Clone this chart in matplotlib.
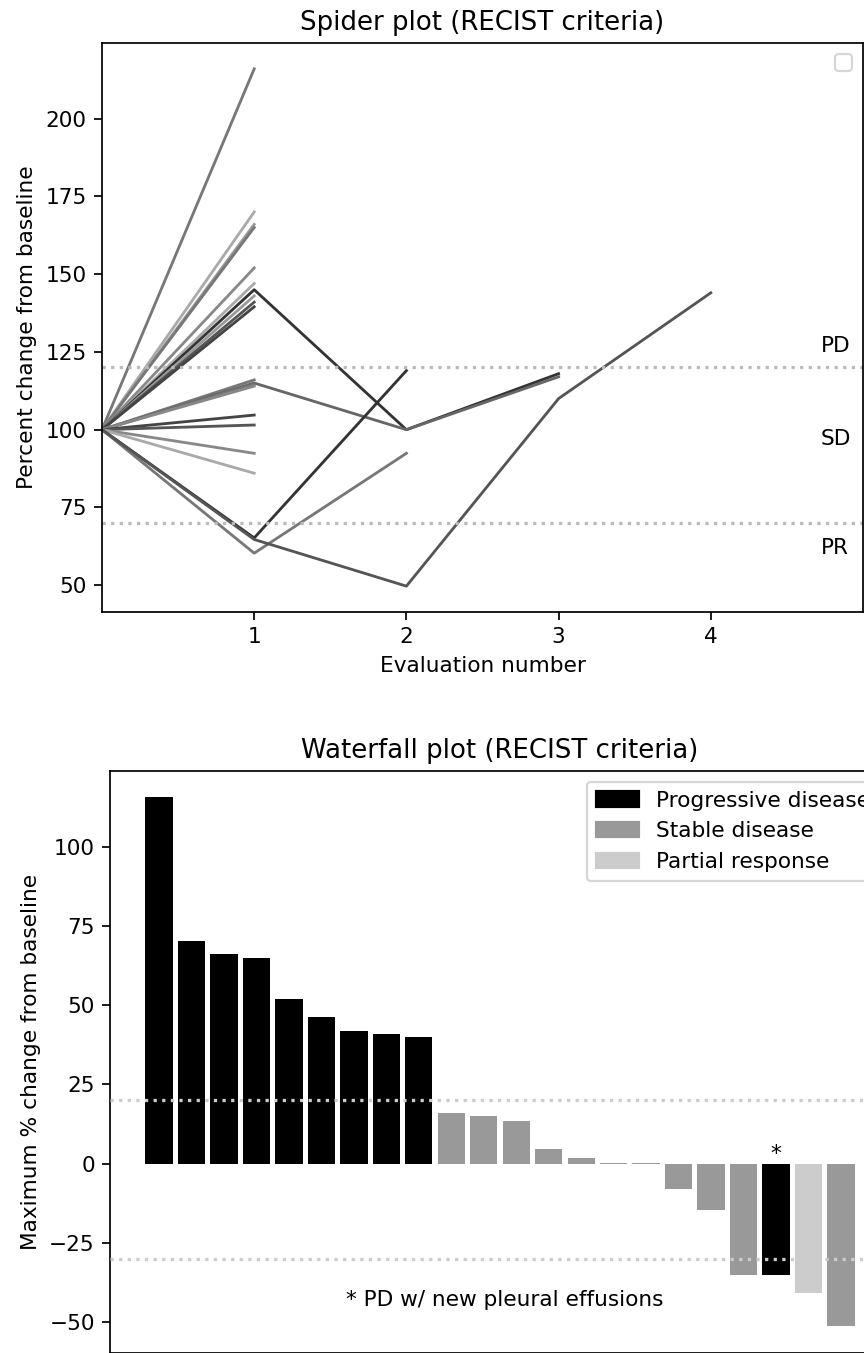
import numpy as np
import matplotlib
matplotlib.use('Agg')
import matplotlib.pyplot as plt
from matplotlib.patches import Patch

# spider plot: percent of baseline at each evaluation (index 0 = baseline)
spider_values = [
    [100, 216],
    [100, 170],
    [100, 166],
    [100, 165],
    [100, 152],
    [100, 147],
    [100, 145, 100, 118],
    [100, 143],
    [100, 141],
    [100, 139.5],
    [100, 116],
    [100, 115, 100, 117],
    [100, 114.5],
    [100, 114],
    [100, 104.7],
    [100, 101.5],
    [100, 92.4],
    [100, 86],
    [100, 65.2, 119],
    [100, 60.3, 92.4],
    [100, 64.7, 49.7, 110, 144],
]
spider_colors = ['#777777', '#aaaaaa', '#999999', '#777777', '#888888',
                 '#aaaaaa', '#333333', '#999999', '#555555', '#444444',
                 '#777777', '#666666', '#777777', '#888888', '#444444',
                 '#555555', '#888888', '#aaaaaa', '#333333', '#777777',
                 '#555555']

# waterfall plot: maximum % change, sorted, with response category
waterfall_values = [115.5, 70.1, 66.1, 65.0, 51.8, 46.4, 41.8, 40.9, 39.9,
                    16.0, 15.1, 13.6, 4.6, 1.7, 0.3, 0.3,
                    -8.1, -14.6, -35.2, -35.2, -40.7, -51.2]
waterfall_resp = ['PD'] * 9 + ['SD'] * 10 + ['PD', 'PR', 'SD']
resp_colors = {'PD': '#000000', 'SD': '#999999', 'PR': '#cccccc'}
resp_labels = [('PD', 'Progressive disease'), ('SD', 'Stable disease'),
               ('PR', 'Partial response')]

W, H, DPI = 864, 1353, 156
fig = plt.figure(figsize=(W / DPI, H / DPI), dpi=DPI)

# --- spider plot
ax1 = fig.add_axes([102 / W, (H - 612) / H, (863 - 102) / W, (612 - 43) / H])
for vals, c in zip(spider_values, spider_colors):
    ax1.plot(range(len(vals)), vals, color=c, lw=1.3)
ax1.axhline(120, color='#bbbbbb', ls=':', lw=1.5)
ax1.axhline(70, color='#bbbbbb', ls=':', lw=1.5)
ax1.text(4.72, 125, 'PD')
ax1.text(4.72, 95, 'SD')
ax1.text(4.72, 60, 'PR')
ax1.set_xlim(0, 5)
ax1.set_xticks([1, 2, 3, 4])
ax1.set_xlabel('Evaluation number')
ax1.set_ylabel('Percent change from baseline')
ax1.set_title('Spider plot (RECIST criteria)')
ax1.legend(handles=[], loc='upper right')

# --- waterfall plot
ax2 = fig.add_axes([110 / W, 0.5 / H, (890 - 110) / W, (1352.5 - 771) / H])
x = np.arange(len(waterfall_values))
ax2.bar(x, waterfall_values, width=0.84,
        color=[resp_colors[r] for r in waterfall_resp])
ax2.axhline(20, color='#cccccc', ls=':', lw=1.5, zorder=5)
ax2.axhline(-30, color='#cccccc', ls=':', lw=1.5, zorder=5)
ax2.text(19, 0, '*', ha='center', va='bottom')
ax2.text(5.75, -45, '* PD w/ new pleural effusions')
ax2.set_xticks([])
ax2.set_ylabel('Maximum % change from baseline')
ax2.set_title('Waterfall plot (RECIST criteria)')
handles = [Patch(color=resp_colors[k], label=lab) for k, lab in resp_labels]
ax2.legend(handles=handles, loc='upper right')

fig.savefig('out.png', dpi=DPI)
